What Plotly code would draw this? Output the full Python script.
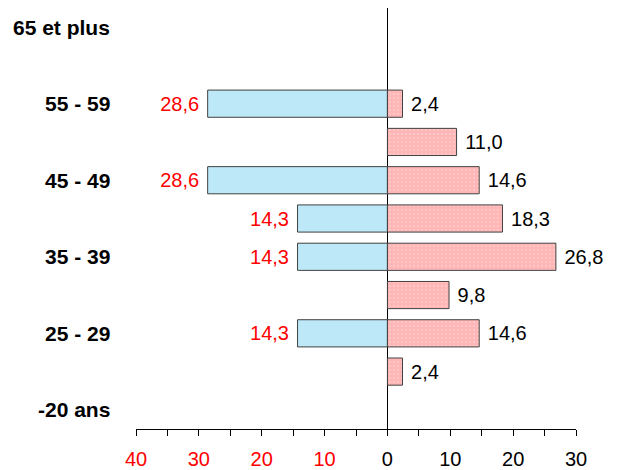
import plotly.graph_objects as go

categories = ["-20 ans", "20 - 24", "25 - 29", "30 - 34", "35 - 39", "40 - 44",
              "45 - 49", "50 - 54", "55 - 59", "60 - 64", "65 et plus"]
shown_labels = ["-20 ans", "25 - 29", "35 - 39", "45 - 49", "55 - 59", "65 et plus"]
left_values = [None, None, 14.3, None, 14.3, 14.3, 28.6, None, 28.6, None, None]
right_values = [None, 2.4, 14.6, 9.8, 26.8, 18.3, 14.6, 11.0, 2.4, None, None]
x_tickvals = [-40, -30, -20, -10, 0, 10, 20, 30]
x_ticktext = ["40", "30", "20", "10", "0", "10", "20", "30"]

NB = "\u00a0"

def fmt(v, side):
    if v is None:
        return ""
    s = f"{v:.1f}".replace(".", ",")
    return s + NB if side == "left" else NB + s

fig = go.Figure()
fig.add_bar(
    y=categories, x=[None if v is None else -v for v in left_values], orientation="h",
    marker=dict(color="#BDE8F8", line=dict(color="#404040", width=1)),
    text=[fmt(v, "left") for v in left_values], textposition="outside",
    textfont=dict(color="#FF0000", size=20, family="Liberation Sans, Arial"),
    cliponaxis=False, showlegend=False,
)
fig.add_bar(
    y=categories, x=right_values, orientation="h",
    marker=dict(color="#FFB5B5", line=dict(color="#404040", width=1),
                pattern=dict(shape=".", fgcolor="#FFD6D6", size=4, solidity=0.3)),
    text=[fmt(v, "right") for v in right_values], textposition="outside",
    textfont=dict(color="#000000", size=20, family="Liberation Sans, Arial"),
    cliponaxis=False, showlegend=False,
)

red_ticks = [f'<span style="color:#FF0000">{t}</span>' if v < 0 else t
             for v, t in zip(x_tickvals, x_ticktext)]

# The page body has an 8px margin; the figure is sized to fit the 622x470 window.
fig.update_layout(
    width=614, height=462,
    margin=dict(l=128, r=46, t=0, b=41, autoexpand=False),
    barmode="overlay", bargap=0.29,
    plot_bgcolor="white", paper_bgcolor="white",
    font=dict(family="Liberation Sans, Arial", size=20, color="black"),
    xaxis=dict(
        range=[-40, 30], tickvals=x_tickvals, ticktext=red_ticks,
        automargin=False,
        showgrid=False, zeroline=True, zerolinecolor="black", zerolinewidth=1,
        showline=True, linecolor="black", linewidth=1,
        ticks="outside", ticklen=6, tickcolor="black",
        minor=dict(dtick=5, ticks="outside", ticklen=6, tickcolor="black"),
        ticklabelstandoff=6,
        tickfont=dict(size=20),
    ),
    yaxis=dict(
        range=[-0.5, 10.5], showgrid=False, showline=False, zeroline=False,
        automargin=False,
        categoryorder="array", categoryarray=categories,
        showticklabels=False, ticks="",
    ),
)

for c in shown_labels:
    fig.add_annotation(
        x=0, xref="paper", xshift=-24, y=c, yref="y",
        text=f"<b>{c}</b>", showarrow=False, xanchor="right", yanchor="middle",
        font=dict(size=21, color="black", family="Liberation Sans, Arial"),
    )

fig.write_html("out.html")
